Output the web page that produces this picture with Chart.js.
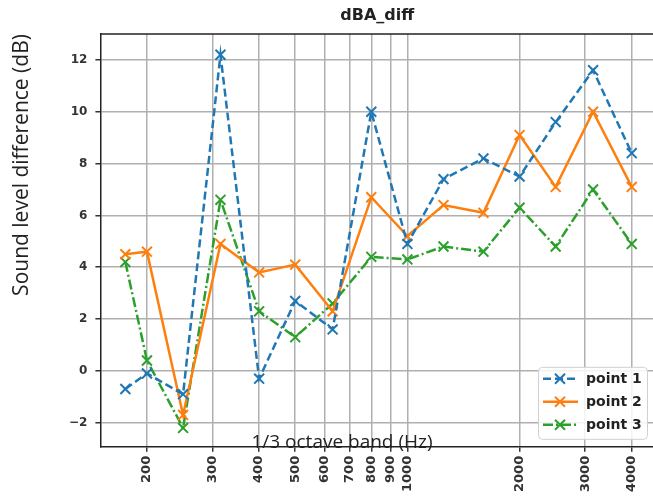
<!DOCTYPE html>
<html>
<head>
<meta charset="utf-8">
<script src="https://cdn.jsdelivr.net/npm/chart.js@4.4.1/dist/chart.umd.min.js"></script>
<style>
  html, body { margin: 0; padding: 0; background: #fff; overflow: hidden; }
  /* the source figure is cropped at its right spine, so the canvas runs a bit past the window */
  #wrap { width: 663px; height: 496px; position: relative; }
</style>
</head>
<body>
<div id="wrap"><canvas id="c"></canvas></div>
<script>
// 1/3 octave band centre frequencies (first point sits a bit above 160 in the source)
const bands  = [175, 200, 250, 315, 400, 500, 630, 800, 1000, 1250, 1600, 2000, 2500, 3150, 4000];
const point1 = [-0.7, -0.1, -0.9, 12.2, -0.3, 2.7, 1.6, 10.0, 4.9, 7.4, 8.2, 7.5, 9.6, 11.6, 8.4];
const point2 = [4.5, 4.6, -1.7, 4.9, 3.8, 4.1, 2.3, 6.7, 5.2, 6.4, 6.1, 9.1, 7.1, 10.0, 7.1];
const point3 = [4.2, 0.4, -2.2, 6.6, 2.3, 1.3, 2.6, 4.4, 4.3, 4.8, 4.6, 6.3, 4.8, 7.0, 4.9];

const xTicks = [200, 300, 400, 500, 600, 700, 800, 900, 1000, 2000, 3000, 4000];
const yTicks = [-2, 0, 2, 4, 6, 8, 10, 12];

const chartTitle = 'dBA_diff';
const xLabel = '1/3 octave band (Hz)';
const yLabel = 'Sound level difference (dB)';

function series(label, values, color, dash) {
    return {
        label,
        data: bands.map((f, i) => ({ x: f, y: values[i] })),
        borderColor: color,
        backgroundColor: color,
        borderWidth: 2.5,
        borderDash: dash,
        pointStyle: 'crossRot',
        pointRadius: 7,
        pointBorderWidth: 2,
        pointBorderColor: color,
        tension: 0,
        fill: false
    };
}

/* ── Рамка, підписи осей, легенда ──────────────────────────────── */

function drawX(ctx, cx, cy, r) {
    ctx.beginPath();
    ctx.moveTo(cx - r, cy - r); ctx.lineTo(cx + r, cy + r);
    ctx.moveTo(cx - r, cy + r); ctx.lineTo(cx + r, cy - r);
    ctx.stroke();
}

const overlay = {
    id: 'overlay',
    afterDraw(chart) {
        const { ctx, chartArea: a } = chart;
        ctx.save();

        // top spine
        ctx.strokeStyle = '#222';
        ctx.lineWidth = 1.5;
        ctx.beginPath();
        ctx.moveTo(a.left, a.top);
        ctx.lineTo(a.right, a.top);
        ctx.stroke();

        // title
        ctx.fillStyle = '#222';
        ctx.font = 'bold 16px "DejaVu Sans"';
        ctx.textAlign = 'center';
        ctx.textBaseline = 'middle';
        ctx.fillText(chartTitle, (a.left + a.right) / 2, 16);

        // x label (sits inside the plot, over the bottom spine)
        ctx.font = '19px "Open Sans"';
        ctx.textBaseline = 'alphabetic';
        ctx.fillText(xLabel, 342, a.bottom + 1);

        // y label
        ctx.save();
        ctx.translate(22, 165);
        ctx.rotate(-Math.PI / 2);
        ctx.font = '21px "Open Sans"';
        ctx.textBaseline = 'middle';
        ctx.fillText(yLabel, 0, 0);
        ctx.restore();

        // legend, lower right
        const w = 109, h = 72;
        const x = a.right - 7 - w, y = a.bottom - 8 - h;
        ctx.fillStyle = 'rgba(255,255,255,0.85)';
        ctx.strokeStyle = '#d0d0d0';
        ctx.lineWidth = 1;
        ctx.beginPath();
        ctx.roundRect(x + 0.5, y + 0.5, w, h, 4);
        ctx.fill();
        ctx.stroke();

        chart.data.datasets.forEach((ds, i) => {
            const cy = y + 12 + i * 23;
            ctx.strokeStyle = ds.borderColor;
            ctx.lineWidth = 2.5;
            ctx.setLineDash(ds.borderDash || []);
            ctx.beginPath();
            ctx.moveTo(x + 5, cy);
            ctx.lineTo(x + 40, cy);
            ctx.stroke();
            ctx.setLineDash([]);
            ctx.lineWidth = 2;
            drawX(ctx, x + 22, cy, 5);
            ctx.fillStyle = '#222';
            ctx.font = 'bold 14px "DejaVu Sans"';
            ctx.textAlign = 'left';
            ctx.textBaseline = 'middle';
            ctx.fillText(ds.label, x + 48, cy + 1);
        });

        ctx.restore();
    }
};

new Chart(document.getElementById('c'), {
    type: 'line',
    data: {
        datasets: [
            series('point 1', point1, '#1f77b4', [8, 4]),
            series('point 2', point2, '#ff7f0e', []),
            series('point 3', point3, '#2ca02c', [10, 3, 2, 3])
        ]
    },
    options: {
        responsive: true,
        maintainAspectRatio: false,
        animation: false,
        layout: { padding: { top: 34, left: 61, right: 0, bottom: 0 } },
        plugins: {
            legend: { display: false },
            title: { display: false },
            tooltip: { enabled: false }
        },
        scales: {
            x: {
                type: 'logarithmic',
                min: 150,
                max: 4590,
                afterBuildTicks: s => { s.ticks = xTicks.map(v => ({ value: v })); },
                ticks: {
                    autoSkip: false,
                    minRotation: 90,
                    maxRotation: 90,
                    padding: 4,
                    color: '#333',
                    font: { family: '"DejaVu Sans"', size: 13, weight: 'bold' },
                    callback: v => String(v)
                },
                grid: { color: '#b0b0b0', lineWidth: 1.5, tickColor: '#333', tickLength: 5 },
                border: { color: '#222', width: 1.5 }
            },
            y: {
                min: -2.93,
                max: 13.0,
                afterBuildTicks: s => { s.ticks = yTicks.map(v => ({ value: v })); },
                ticks: {
                    padding: 8,
                    color: '#333',
                    font: { family: '"DejaVu Sans"', size: 12, weight: 'bold' },
                    callback: v => (v < 0 ? '\u2212' + Math.abs(v) : String(v))
                },
                grid: { color: '#b0b0b0', lineWidth: 1.5, tickColor: '#333', tickLength: 5 },
                border: { color: '#222', width: 1.5 }
            }
        }
    },
    plugins: [overlay]
});
</script>
</body>
</html>
